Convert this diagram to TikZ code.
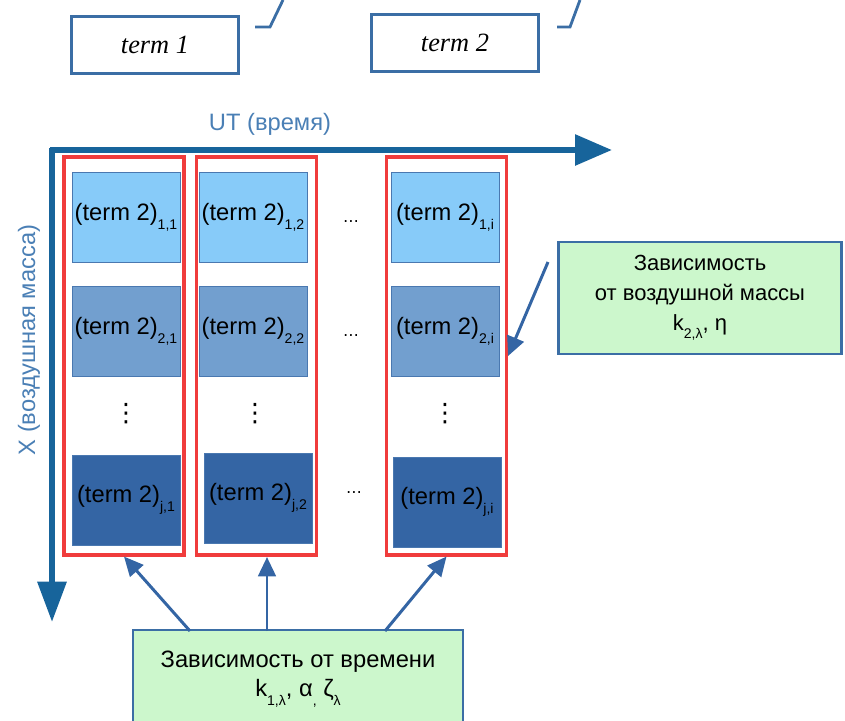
\documentclass[tikz,border=0pt]{standalone}
\usepackage{fontspec}
\setmainfont{Liberation Sans}
\newfontfamily\termfont{Liberation Serif}
\newfontfamily\symfont{DejaVu Sans}
\usetikzlibrary{positioning,arrows.meta}
\definecolor{axisblue}{HTML}{17649B}
\definecolor{labelblue}{HTML}{4A7FB5}
\definecolor{framered}{HTML}{F03C3C}
\definecolor{celllight}{HTML}{87CBF9}
\definecolor{cellmid}{HTML}{729FCF}
\definecolor{celldark}{HTML}{3465A4}
\definecolor{cellline}{HTML}{4A78B0}
\definecolor{notegreen}{HTML}{CCF7CC}
\definecolor{noteline}{HTML}{3B6EA5}
\newcommand{\lowsub}[1]{\raisebox{-0.7ex}{\fontsize{8}{8}\selectfont #1}}

\begin{document}
\begin{tikzpicture}[x=0.02cm,y=-0.02cm,
  termbox/.style={draw=noteline,line width=1.6pt,minimum width=3.35cm,minimum height=1.15cm,font=\termfont\itshape\fontsize{15}{17}\selectfont},
  cell/.style={draw=cellline,line width=0.5pt,minimum width=2.16cm,minimum height=1.8cm,inner sep=0pt,font=\fontsize{13.5}{15}\selectfont},
  light/.style={cell,fill=celllight},
  mid/.style={cell,fill=cellmid},
  dark/.style={cell,fill=celldark},
  column/.style={draw=framered,line width=1.8pt,minimum width=2.4cm,minimum height=7.96cm,inner sep=0pt},
  note/.style={draw=noteline,fill=notegreen,line width=1.6pt,align=center,inner sep=0pt},
  link/.style={draw=celldark,line width=1.7pt,-{Triangle[length=11pt,width=10pt]}},
  axis/.style={draw=axisblue,line width=3.4pt},
  dots/.style={font=\symfont\small,inner sep=0pt}]
  \useasboundingbox (0,0) rectangle (845,720);

  % top terms
  \node[termbox] (term1) at (155,45) {term 1};
  \node[termbox] (term2) at (455,43) {term 2};
  \draw[noteline,line width=1.6pt] (255,27) -- (270,27) -- (283,0);
  \draw[noteline,line width=1.6pt] (557,27) -- (570,27) -- (580,0);

  % axes
  \draw[axis,-{Triangle[length=21pt,width=17pt]}] (50,150) -- (612,150);
  \draw[axis,-{Triangle[length=23pt,width=16pt]}] (52,148) -- (52,622);
  \node[text=labelblue,font=\fontsize{13.5}{15}\selectfont] (ut) at (270,124) {UT (время)};
  \node[text=labelblue,font=\fontsize{13.5}{15}\selectfont,rotate=90] (xm) at (29,340) {X (воздушная масса)};

  % columns
  \node[column] (col1) at (124,356) {};
  \node[column] (col2) at (256.5,356) {};
  \node[column] (col3) at (446.5,356) {};

  % cells
  \node[light] (c11) at (126,217) {(term 2)\lowsub{1,1}};
  \node[light] (c12) at (253,217) {(term 2)\lowsub{1,2}};
  \node[light] (c1i) at (445,217) {(term 2)\lowsub{1,i}};
  \node[mid] (c21) at (126,331) {(term 2)\lowsub{2,1}};
  \node[mid] (c22) at (253,331) {(term 2)\lowsub{2,2}};
  \node[mid] (c2i) at (445,331) {(term 2)\lowsub{2,i}};
  \node[dark] (cj1) at (126,500) {(term 2)\lowsub{j,1}};
  \node[dark] (cj2) at (258,498) {(term 2)\lowsub{j,2}};
  \node[dark] (cji) at (447,502) {(term 2)\lowsub{j,i}};

  % dots
  \node[dots,font=\symfont\Large] (v1) at (126,414) {⋮};
  \node[dots,font=\symfont\Large] (v2) at (255,414) {⋮};
  \node[dots,font=\symfont\Large] (v3) at (445,414) {⋮};
  \node[dots] (h1) at (351,222) {…};
  \node[dots] (h2) at (351,336) {…};
  \node[dots] (h3) at (354,493) {…};

  % notes
  \node[note,minimum width=5.66cm,minimum height=2.24cm,font=\fontsize{12.5}{17}\selectfont] (mass) at (700,298)
    {Зависимость\\от воздушной массы\\k\lowsub{2,λ}, η};
  \node[note,minimum width=6.6cm,minimum height=1.96cm,font=\fontsize{13.5}{17}\selectfont] (time) at (298,679)
    {Зависимость от времени\\k\lowsub{1,λ}, α\lowsub{,} ζ\lowsub{λ}};

  % links
  \coordinate (m1) at (548,262);
  \coordinate (t1) at (190,631);
  \coordinate (t2) at (267,631);
  \coordinate (t3) at (385,631);
  \coordinate (e2) at (267,557);
  \draw[link] (m1) -- (col3.east);
  \draw[link] (t1) -- (col1.south);
  \draw[link] (t2) -- (e2);
  \draw[link] (t3) -- (col3.south);
\end{tikzpicture}
\end{document}
